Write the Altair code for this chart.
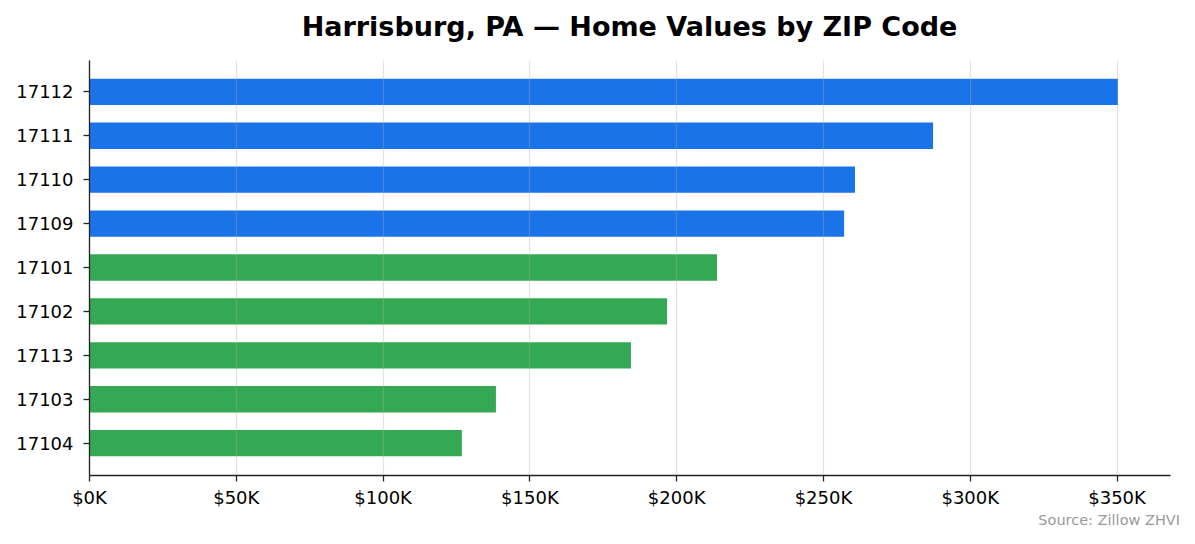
import altair as alt
import pandas as pd

zips = ['17112', '17111', '17110', '17109', '17101', '17102', '17113', '17103', '17104']
valores = [350500, 287500, 260900, 257200, 213900, 196900, 184600, 138600, 127000]
grupos = ['alto', 'alto', 'alto', 'alto', 'baixo', 'baixo', 'baixo', 'baixo', 'baixo']

df = pd.DataFrame({'zip': zips, 'valor': valores, 'grupo': grupos})

fonte = 'DejaVu Sans'

barras = alt.Chart(df).mark_bar().encode(
    x=alt.X('valor:Q', title=None,
            scale=alt.Scale(domain=[0, 368200], nice=False, zero=True),
            axis=alt.Axis(values=[0, 50000, 100000, 150000, 200000, 250000, 300000, 350000],
                          labelExpr="'$' + format(datum.value / 1000, 'd') + 'K'",
                          grid=True, gridColor='#b0b0b0', gridOpacity=0.35, gridWidth=1.2,
                          labelFlush=False, labelPadding=8, zindex=1)),
    y=alt.Y('zip:N', title=None, sort=zips,
            scale=alt.Scale(paddingInner=0.4, paddingOuter=0.425),
            axis=alt.Axis(grid=False, labelPadding=10, labelOffset=1.5, zindex=1)),
    color=alt.Color('grupo:N', legend=None,
                    scale=alt.Scale(domain=['alto', 'baixo'], range=['#1a73e8', '#34a853'])),
)

fonte_txt = alt.Chart(pd.DataFrame({'t': ['Source: Zillow ZHVI']})).mark_text(
    align='right', baseline='middle', fontSize=14.5, color='#999999', font=fonte
).encode(text='t:N', x=alt.value(1091), y=alt.value(461))

chart = alt.layer(barras, fonte_txt).properties(
    width=1081, height=415,
    autosize=alt.AutoSizeParams(type='none'),
    padding={'left': 81, 'top': 52, 'right': 17, 'bottom': 61},
    title=alt.TitleParams('Harrisburg, PA — Home Values by ZIP Code', anchor='middle',
                          fontSize=27, fontWeight='bold', font=fonte, color='black',
                          baseline='bottom', offset=19, dy=28),
).configure_view(stroke=None).configure_axis(
    labelFont=fonte, labelFontSize=18, labelColor='black',
    domainColor='#222222', domainWidth=1.3,
    tickColor='#222222', tickSize=6, tickWidth=1.3,
)

chart.save('out.html', embed_options={'renderer': 'svg', 'actions': False})
